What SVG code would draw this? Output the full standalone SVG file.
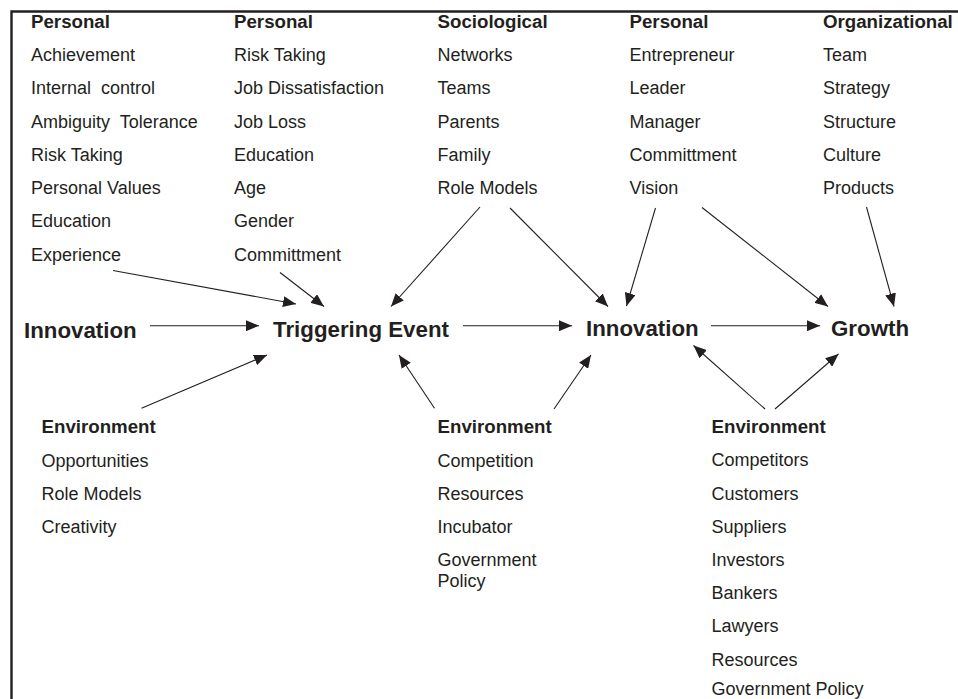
<svg xmlns="http://www.w3.org/2000/svg" width="958" height="699" viewBox="0 0 958 699">
<style>
text{font-family:"Liberation Sans",Arial,sans-serif;fill:#231f20;white-space:pre}
.r{font-size:18px}
.h{font-size:18.7px;font-weight:bold}
.b{font-size:22.3px;font-weight:bold}
.c{stroke:#231f20;stroke-width:1.1;fill:none;marker-end:url(#ah)}
</style>
<defs>
<marker id="ah" viewBox="0 0 13 11" refX="13" refY="5.5" markerWidth="13" markerHeight="11" markerUnits="userSpaceOnUse" orient="auto">
<path d="M0,0 L13,5.5 L0,11 z" fill="#231f20"/>
</marker>
</defs>
<rect width="958" height="699" fill="#fff"/>
<g id="frame" stroke="#231f20" stroke-width="2.4" fill="none">
<path d="M11.5,699 V11.5 H958"/>
</g>
<g id="personal1">
<text class="h" x="31" y="28">Personal</text>
<text class="r" x="31" y="61">Achievement</text>
<text class="r" x="31" y="94.3">Internal  control</text>
<text class="r" x="31" y="127.6">Ambiguity  Tolerance</text>
<text class="r" x="31" y="161">Risk Taking</text>
<text class="r" x="31" y="194">Personal Values</text>
<text class="r" x="31" y="227.4">Education</text>
<text class="r" x="31" y="260.5">Experience</text>
</g>
<g id="personal2">
<text class="h" x="234" y="28">Personal</text>
<text class="r" x="234" y="61">Risk Taking</text>
<text class="r" x="234" y="94.3">Job Dissatisfaction</text>
<text class="r" x="234" y="127.6">Job Loss</text>
<text class="r" x="234" y="161">Education</text>
<text class="r" x="234" y="194">Age</text>
<text class="r" x="234" y="227.4">Gender</text>
<text class="r" x="234" y="260.5">Committment</text>
</g>
<g id="sociological">
<text class="h" x="437.5" y="28">Sociological</text>
<text class="r" x="437.5" y="61">Networks</text>
<text class="r" x="437.5" y="94.3">Teams</text>
<text class="r" x="437.5" y="127.6">Parents</text>
<text class="r" x="437.5" y="161">Family</text>
<text class="r" x="437.5" y="194">Role Models</text>
</g>
<g id="personal3">
<text class="h" x="629.5" y="28">Personal</text>
<text class="r" x="629.5" y="61">Entrepreneur</text>
<text class="r" x="629.5" y="94.3">Leader</text>
<text class="r" x="629.5" y="127.6">Manager</text>
<text class="r" x="629.5" y="161">Committment</text>
<text class="r" x="629.5" y="194">Vision</text>
</g>
<g id="organizational">
<text class="h" x="823" y="28">Organizational</text>
<text class="r" x="823" y="61">Team</text>
<text class="r" x="823" y="94.3">Strategy</text>
<text class="r" x="823" y="127.6">Structure</text>
<text class="r" x="823" y="161">Culture</text>
<text class="r" x="823" y="194">Products</text>
</g>
<g id="innovation-start"><text class="b" x="24" y="338">Innovation</text></g>
<g id="triggering-event"><text class="b" x="273" y="337">Triggering Event</text></g>
<g id="innovation"><text class="b" x="586" y="336">Innovation</text></g>
<g id="growth"><text class="b" x="831" y="336">Growth</text></g>
<g id="environment1">
<text class="h" x="41.5" y="433.3">Environment</text>
<text class="r" x="41.5" y="466.7">Opportunities</text>
<text class="r" x="41.5" y="499.6">Role Models</text>
<text class="r" x="41.5" y="533.2">Creativity</text>
</g>
<g id="environment2">
<text class="h" x="437.5" y="433.3">Environment</text>
<text class="r" x="437.5" y="466.7">Competition</text>
<text class="r" x="437.5" y="499.8">Resources</text>
<text class="r" x="437.5" y="533">Incubator</text>
<text class="r" x="437.5" y="566">Government</text>
<text class="r" x="437.5" y="587">Policy</text>
</g>
<g id="environment3">
<text class="h" x="711.5" y="433.3">Environment</text>
<text class="r" x="711.5" y="466.3">Competitors</text>
<text class="r" x="711.5" y="499.5">Customers</text>
<text class="r" x="711.5" y="532.8">Suppliers</text>
<text class="r" x="711.5" y="566">Investors</text>
<text class="r" x="711.5" y="599">Bankers</text>
<text class="r" x="711.5" y="632.3">Lawyers</text>
<text class="r" x="711.5" y="665.5">Resources</text>
<text class="r" x="711.5" y="694.8">Government Policy</text>
</g>
<g id="connectors">
<line class="c" x1="150" y1="325.7" x2="259" y2="325.7"/>
<line class="c" x1="463" y1="325.7" x2="572" y2="325.7"/>
<line class="c" x1="711" y1="325.7" x2="820" y2="325.7"/>
<line class="c" x1="113" y1="270.5" x2="296" y2="304"/>
<line class="c" x1="280" y1="272.5" x2="324" y2="306.5"/>
<line class="c" x1="480" y1="207" x2="391" y2="306.5"/>
<line class="c" x1="510" y1="208" x2="608" y2="306.5"/>
<line class="c" x1="655.5" y1="208" x2="626.5" y2="306"/>
<line class="c" x1="702" y1="207.5" x2="828" y2="306.5"/>
<line class="c" x1="866.5" y1="207" x2="894" y2="306.5"/>
<line class="c" x1="141.5" y1="408.3" x2="267" y2="355"/>
<line class="c" x1="434.5" y1="408.3" x2="399" y2="355"/>
<line class="c" x1="554" y1="409" x2="591" y2="355"/>
<line class="c" x1="765" y1="409" x2="693.5" y2="345.5"/>
<line class="c" x1="775" y1="409" x2="838.5" y2="354"/>
</g>
</svg>
